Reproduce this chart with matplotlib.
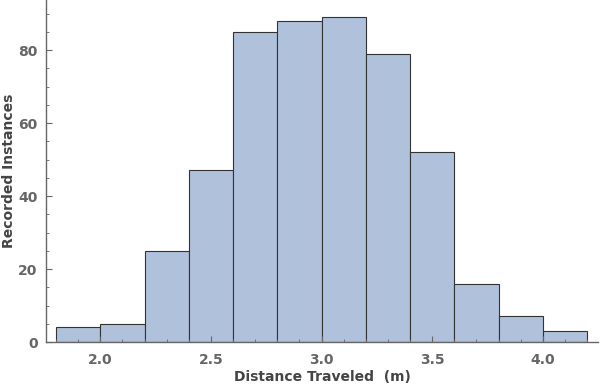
import matplotlib
matplotlib.use("Agg")
import matplotlib.pyplot as plt
from matplotlib.ticker import MultipleLocator
import numpy as np

bin_edges = [1.8, 2.0, 2.2, 2.4, 2.6, 2.8, 3.0, 3.2, 3.4, 3.6, 3.8, 4.0, 4.2]
counts = [4, 5, 25, 47, 85, 88, 89, 79, 52, 16, 7, 3]
x_label = "Distance Traveled  (m)"
y_label = "Recorded Instances"

fig = plt.figure(figsize=(6, 3.87), dpi=100)
ax = fig.add_axes([46/600, 45/387, 552/600, 342/387])

lefts = np.array(bin_edges[:-1])
widths = np.diff(bin_edges)
ax.bar(lefts, counts, width=widths, align="edge", color="#b0c1db",
       edgecolor="#333333", linewidth=0.8)

ax.set_xlim(1.7548, 4.2497)
ax.set_ylim(0, 93.7)
ax.xaxis.set_major_locator(MultipleLocator(0.5))
ax.xaxis.set_minor_locator(MultipleLocator(0.1))
ax.yaxis.set_major_locator(MultipleLocator(20))
ax.yaxis.set_minor_locator(MultipleLocator(5))
ax.xaxis.set_major_formatter(matplotlib.ticker.FormatStrFormatter("%.1f"))

gray = "#666666"
for s in ["top", "right"]:
    ax.spines[s].set_visible(False)
for s in ["left", "bottom"]:
    ax.spines[s].set_color(gray)
    ax.spines[s].set_linewidth(1.0)

ax.tick_params(axis="both", which="both", direction="in", colors=gray,
               labelcolor=gray, labelsize=10)
ax.tick_params(which="major", length=4, width=0.8)
ax.tick_params(which="minor", length=2.5, width=0.6)
ax.tick_params(axis="x", pad=8)
ax.tick_params(axis="y", pad=6)
for lab in ax.get_xticklabels() + ax.get_yticklabels():
    lab.set_fontweight("bold")

ax.set_xlabel(x_label, fontsize=10, fontweight="bold", color="#444444", va="center")
ax.set_ylabel(y_label, fontsize=10, fontweight="bold", color="#444444", va="center")
ax.xaxis.set_label_coords(0.5, -35/342)
ax.yaxis.set_label_coords(-37/552, 0.5)

fig.savefig("out.png", dpi=100)
